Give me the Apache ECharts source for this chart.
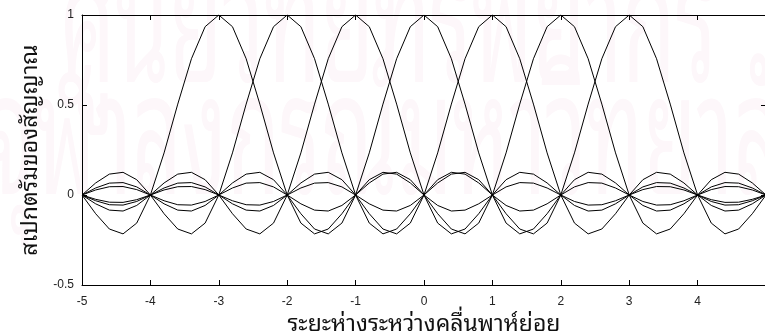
<!DOCTYPE html>
<html>
<head>
<meta charset="utf-8">
<title>sinc subcarriers</title>
<script src="https://cdn.jsdelivr.net/npm/echarts@6/dist/echarts.min.js"></script>
<style>
    html, body { margin: 0; padding: 0; background: #fff; }
    #chart { width: 765px; height: 332px; }
</style>
</head>
<body>
<div id="chart"></div>
<script>
// ตำแหน่งบนแกน x (ระยะห่างระหว่างคลื่นพาห์ย่อย)
var xs = [-5, -4.8, -4.6, -4.4, -4.2, -4, -3.8, -3.6, -3.4, -3.2,
    -3, -2.8, -2.6, -2.4, -2.2, -2, -1.8, -1.6, -1.4, -1.2,
    -1, -0.8, -0.6, -0.4, -0.2, 0, 0.2, 0.4, 0.6, 0.8,
    1, 1.2, 1.4, 1.6, 1.8, 2, 2.2, 2.4, 2.6, 2.8,
    3, 3.2, 3.4, 3.6, 3.8, 4, 4.2, 4.4, 4.6, 4.8, 5];

// สเปกตรัมของคลื่นพาห์ย่อยแต่ละตัว (ยอดที่ -3 ... 3)
var subM3 = [0, -0.104, -0.189, -0.216, -0.156, 0, 0.234, 0.505, 0.757, 0.935,
    1, 0.935, 0.757, 0.505, 0.234, 0, -0.156, -0.216, -0.189, -0.104,
    0, 0.085, 0.126, 0.116, 0.067, 0, -0.058, -0.089, -0.084, -0.049,
    0, 0.045, 0.069, 0.066, 0.039, 0, -0.036, -0.056, -0.054, -0.032,
    0, 0.030, 0.047, 0.046, 0.028, 0, -0.026, -0.041, -0.040, -0.024, 0];
var subM2 = [0, 0.067, 0.116, 0.126, 0.085, 0, -0.104, -0.189, -0.216, -0.156,
    0, 0.234, 0.505, 0.757, 0.935, 1, 0.935, 0.757, 0.505, 0.234,
    0, -0.156, -0.216, -0.189, -0.104, 0, 0.085, 0.126, 0.116, 0.067,
    0, -0.058, -0.089, -0.084, -0.049, 0, 0.045, 0.069, 0.066, 0.039,
    0, -0.036, -0.056, -0.054, -0.032, 0, 0.030, 0.047, 0.046, 0.028, 0];
var subM1 = [0, -0.049, -0.084, -0.089, -0.058, 0, 0.067, 0.116, 0.126, 0.085,
    0, -0.104, -0.189, -0.216, -0.156, 0, 0.234, 0.505, 0.757, 0.935,
    1, 0.935, 0.757, 0.505, 0.234, 0, -0.156, -0.216, -0.189, -0.104,
    0, 0.085, 0.126, 0.116, 0.067, 0, -0.058, -0.089, -0.084, -0.049,
    0, 0.045, 0.069, 0.066, 0.039, 0, -0.036, -0.056, -0.054, -0.032, 0];
var sub0 = [0, 0.039, 0.066, 0.069, 0.045, 0, -0.049, -0.084, -0.089, -0.058,
    0, 0.067, 0.116, 0.126, 0.085, 0, -0.104, -0.189, -0.216, -0.156,
    0, 0.234, 0.505, 0.757, 0.935, 1, 0.935, 0.757, 0.505, 0.234,
    0, -0.156, -0.216, -0.189, -0.104, 0, 0.085, 0.126, 0.116, 0.067,
    0, -0.058, -0.089, -0.084, -0.049, 0, 0.045, 0.069, 0.066, 0.039, 0];
var subP1 = [0, -0.032, -0.054, -0.056, -0.036, 0, 0.039, 0.066, 0.069, 0.045,
    0, -0.049, -0.084, -0.089, -0.058, 0, 0.067, 0.116, 0.126, 0.085,
    0, -0.104, -0.189, -0.216, -0.156, 0, 0.234, 0.505, 0.757, 0.935,
    1, 0.935, 0.757, 0.505, 0.234, 0, -0.156, -0.216, -0.189, -0.104,
    0, 0.085, 0.126, 0.116, 0.067, 0, -0.058, -0.089, -0.084, -0.049, 0];
var subP2 = [0, 0.028, 0.046, 0.047, 0.030, 0, -0.032, -0.054, -0.056, -0.036,
    0, 0.039, 0.066, 0.069, 0.045, 0, -0.049, -0.084, -0.089, -0.058,
    0, 0.067, 0.116, 0.126, 0.085, 0, -0.104, -0.189, -0.216, -0.156,
    0, 0.234, 0.505, 0.757, 0.935, 1, 0.935, 0.757, 0.505, 0.234,
    0, -0.156, -0.216, -0.189, -0.104, 0, 0.085, 0.126, 0.116, 0.067, 0];
var subP3 = [0, -0.024, -0.040, -0.041, -0.026, 0, 0.028, 0.046, 0.047, 0.030,
    0, -0.032, -0.054, -0.056, -0.036, 0, 0.039, 0.066, 0.069, 0.045,
    0, -0.049, -0.084, -0.089, -0.058, 0, 0.067, 0.116, 0.126, 0.085,
    0, -0.104, -0.189, -0.216, -0.156, 0, 0.234, 0.505, 0.757, 0.935,
    1, 0.935, 0.757, 0.505, 0.234, 0, -0.156, -0.216, -0.189, -0.104, 0];

var subcarriers = [subM3, subM2, subM1, sub0, subP1, subP2, subP3];

var xTicks = [-5, -4, -3, -2, -1, 0, 1, 2, 3, 4, 5];
var yTicks = [-0.5, 0, 0.5, 1];

var xName = 'ระยะห่างระหว่างคลื่นพาห์ย่อย';
var yName = 'สเปกตรัมของสัญญาณ';
var watermark = ['ศูนย์วิทยทรัพยากร', 'จุฬาลงกรณ์มหาวิทยาลัย'];

var APP = {
    thaiFont: '"Noto Sans Thai Looped", Loma, Garuda, Norasi, "Noto Serif Thai", "Noto Sans Thai", "DejaVu Sans", sans-serif',
    numFont: '"Liberation Sans Narrow", "Liberation Sans", Arial, sans-serif',
    pairs: function (ys) {
        var out = [];
        for (var i = 0; i < xs.length; i++) {
            out.push([xs[i], ys[i]]);
        }
        return out;
    },
    boxAxis: function (isX, show) {
        var ticks = isX ? xTicks : yTicks;
        return {
            type: 'value',
            min: ticks[0],
            max: ticks[ticks.length - 1],
            interval: isX ? 1 : 0.5,
            axisLine: { show: true, onZero: false, lineStyle: { color: '#000', width: 1 } },
            axisTick: { show: true, inside: true, length: 5, lineStyle: { color: '#000' } },
            axisLabel: {
                show: show,
                color: '#222',
                fontSize: 12,
                fontFamily: this.numFont,
                margin: isX ? 11 : 8,
                showMaxLabel: isX ? false : true
            },
            splitLine: { show: false }
        };
    },
    init: function () {
        var chart = echarts.init(document.getElementById('chart'), null, { renderer: 'canvas' });
        var self = this;

        var xBottom = this.boxAxis(true, true);
        xBottom.position = 'bottom';
        xBottom.name = xName;
        xBottom.nameLocation = 'middle';
        xBottom.nameGap = 16;
        xBottom.nameTextStyle = { fontSize: 23, color: '#111', fontFamily: this.thaiFont };
        var xTop = this.boxAxis(true, false);
        xTop.position = 'top';

        var yLeft = this.boxAxis(false, true);
        yLeft.position = 'left';
        yLeft.name = yName;
        yLeft.nameLocation = 'middle';
        yLeft.nameGap = 37;
        yLeft.nameRotate = 90;
        yLeft.nameTextStyle = { fontSize: 23, color: '#111', fontFamily: this.thaiFont };
        var yRight = this.boxAxis(false, false);
        yRight.position = 'right';

        var series = subcarriers.map(function (ys, i) {
            return {
                name: 'sub' + i,
                type: 'line',
                data: self.pairs(ys),
                showSymbol: false,
                symbol: 'none',
                lineStyle: { color: '#000', width: 1 },
                z: 3
            };
        });

        // ลายน้ำจาง ๆ ด้านหลัง
        var wmStyle = function (txt) {
            return { text: txt, fill: '#fdf7fa', font: '170px ' + self.thaiFont, textVerticalAlign: 'bottom' };
        };

        var option = {
            animation: false,
            backgroundColor: '#fff',
            grid: { left: 82, top: 15, width: 684, height: 270, containLabel: false, outerBoundsMode: 'none' },
            xAxis: [xBottom, xTop],
            yAxis: [yLeft, yRight],
            graphic: [
                { type: 'text', x: 60, y: 119, scaleX: 0.51, z: -100, silent: true, style: wmStyle(watermark[0]) },
                { type: 'text', x: -12, y: 231, scaleX: 0.51, z: -100, silent: true, style: wmStyle(watermark[1]) }
            ],
            series: series
        };

        chart.setOption(option);
    }
};

window.app = APP;
APP.init();
</script>
</body>
</html>
